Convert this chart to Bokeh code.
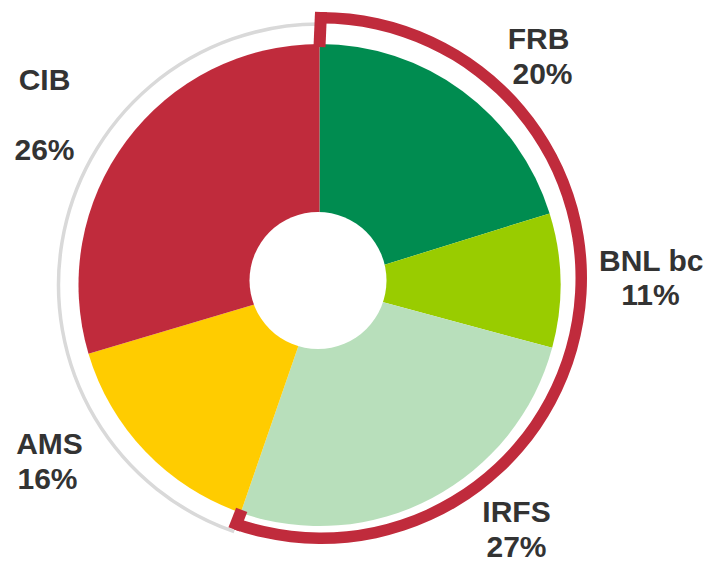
import math
from bokeh.plotting import figure
from bokeh.models import Range1d
from bokeh.core.properties import value
from bokeh.embed import file_html
from bokeh.resources import INLINE

categories = ["FRB", "BNL bc", "IRFS", "AMS", "CIB"]
slice_share = [20.2, 9.0, 26.1, 15.1, 29.6]
label_pct = ["20%", "11%", "27%", "16%", "26%"]
colors = ["#008C50", "#99CC00", "#B8DFBB", "#FFCC00", "#C02B3C"]
bracket_groups = ["FRB", "BNL bc", "IRFS"]

# ---- layout (pixel coordinates of the window, y measured downward) ----
W, H = 711, 562
WIN_H = 562


def Y(ys):
    return WIN_H - ys


pie_cx, pie_cy = 319.0, 284.5
R_OUT = 241.0
hole_cx, hole_cy, hole_r = 317.5, 280.0, 68.5
red_cx, red_cy = 320.5, 277.5
red_r_in, red_r_out = 254.5, 266.0
gray_r = 261.0

TEXT_DY = -9
label_pos = {
    "FRB": (538, 47, 542, 82),
    "BNL bc": (651, 269, 650, 303),
    "IRFS": (516, 520, 516, 555),
    "AMS": (49, 452, 47, 487),
    "CIB": (44, 88, 44, 158),
}

p = figure(width=W, height=H, output_backend="svg", toolbar_location=None,
           x_range=Range1d(0, W), y_range=Range1d(WIN_H - H, WIN_H),
           min_border=0)
p.axis.visible = False
p.grid.visible = False
p.outline_line_color = None
p.background_fill_color = "white"
p.border_fill_color = "white"


def phi(theta_deg):
    # clockwise-from-top degrees -> bokeh radians (anticlockwise from +x)
    return math.radians(90.0 - theta_deg)


total = sum(slice_share)
cum = [0.0]
for v in slice_share:
    cum.append(cum[-1] + v / total * 360.0)

# slices
for i, c in enumerate(categories):
    p.wedge(x=pie_cx, y=Y(pie_cy), radius=R_OUT,
            start_angle=phi(cum[i + 1]), end_angle=phi(cum[i]),
            fill_color=colors[i], line_color=None)

# hole
p.circle(x=hole_cx, y=Y(hole_cy), radius=hole_r, fill_color="white", line_color=None)

# bracket end angle
k = len(bracket_groups)
theta_end = cum[k]

# gray ring (rest)
p.arc(x=pie_cx, y=Y(pie_cy), radius=gray_r, start_angle=phi(360.0), end_angle=phi(theta_end),
      line_color="#D9D9D9", line_width=3.5)

# red bracket
red = "#C02B3C"
p.annular_wedge(x=red_cx, y=Y(red_cy), inner_radius=red_r_in, outer_radius=red_r_out,
                start_angle=phi(theta_end), end_angle=phi(0.0),
                fill_color=red, line_color=None)
for th in (0.0, theta_end):
    t = math.radians(th)
    x0 = red_cx + red_r_out * math.sin(t)
    y0 = red_cy - red_r_out * math.cos(t)
    x1 = pie_cx + (R_OUT - 3) * math.sin(t)
    y1 = pie_cy - (R_OUT - 3) * math.cos(t)
    p.segment(x0=x0, y0=Y(y0), x1=x1, y1=Y(y1), line_color=red, line_width=12, line_cap="butt")

# labels
for c, pct in zip(categories, label_pct):
    nx, ny, px, py = label_pos[c]
    p.text(x=nx, y=Y(ny + TEXT_DY), text=value(c), text_font=value("Liberation Sans"),
           text_font_style="bold", text_font_size="30px", text_color="#333333",
           text_align="center", text_baseline="alphabetic")
    p.text(x=px, y=Y(py + TEXT_DY), text=value(pct), text_font=value("Liberation Sans"),
           text_font_style="bold", text_font_size="30px", text_color="#333333",
           text_align="center", text_baseline="alphabetic")

open("out.html", "w").write(file_html(p, INLINE))
